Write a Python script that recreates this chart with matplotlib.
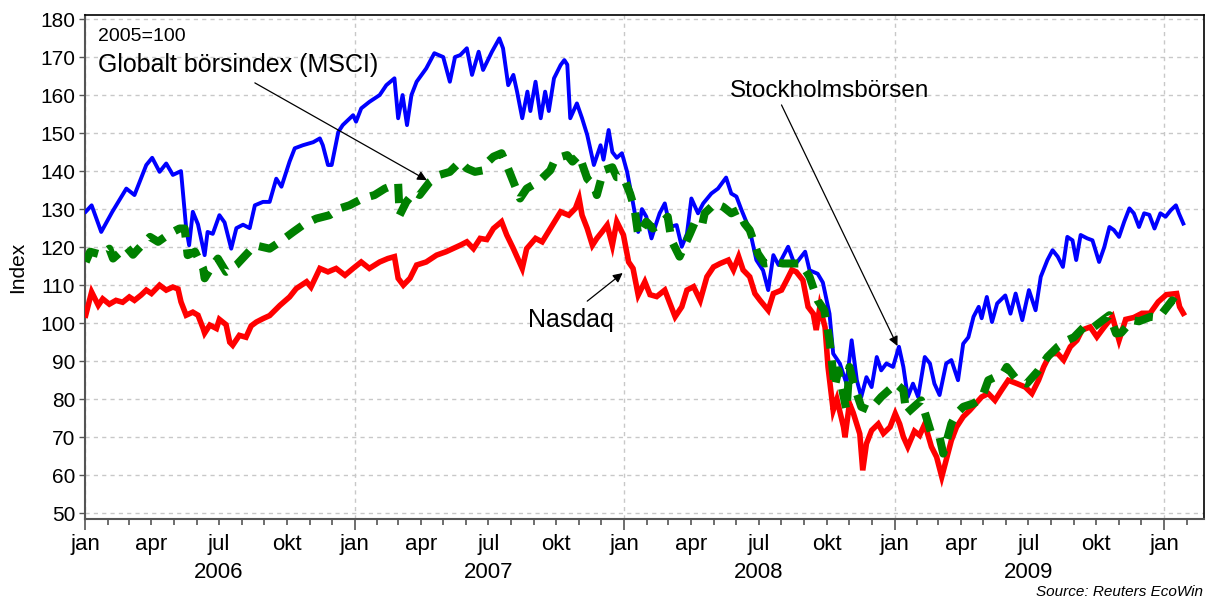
import matplotlib
matplotlib.use("Agg")
import matplotlib.pyplot as plt
import matplotlib.dates as mdates
import matplotlib.ticker as mticker
import pandas as pd

plt.rcParams['font.family'] = ['Liberation Sans', 'DejaVu Sans']

# Stockholmsbörsen (blå)
stockholm_datum = [
    '2006-01-02', '2006-01-10', '2006-01-23', '2006-02-07', '2006-02-26', '2006-03-09', '2006-03-25',
    '2006-04-02', '2006-04-12', '2006-04-21', '2006-04-30', '2006-05-11', '2006-05-18', '2006-05-22',
    '2006-05-27', '2006-06-03', '2006-06-12', '2006-06-16', '2006-06-23', '2006-07-02', '2006-07-09',
    '2006-07-18', '2006-07-25', '2006-08-03', '2006-08-12', '2006-08-19', '2006-08-30', '2006-09-08',
    '2006-09-17', '2006-09-24', '2006-10-05', '2006-10-12', '2006-10-23', '2006-11-06', '2006-11-15',
    '2006-11-19', '2006-11-26', '2006-12-01', '2006-12-10', '2006-12-16', '2006-12-30', '2007-01-03',
    '2007-01-10', '2007-01-21', '2007-02-04', '2007-02-13', '2007-02-24', '2007-03-01', '2007-03-07',
    '2007-03-13', '2007-03-19', '2007-03-26', '2007-04-08', '2007-04-19', '2007-05-01', '2007-05-10',
    '2007-05-17', '2007-05-24', '2007-06-02', '2007-06-09', '2007-06-18', '2007-06-24', '2007-07-06',
    '2007-07-16', '2007-07-21', '2007-07-28', '2007-08-04', '2007-08-09', '2007-08-16', '2007-08-23',
    '2007-08-27', '2007-09-03', '2007-09-10', '2007-09-16', '2007-09-21', '2007-09-28', '2007-10-07',
    '2007-10-12', '2007-10-16', '2007-10-20', '2007-10-29', '2007-11-05', '2007-11-12', '2007-11-21',
    '2007-11-30', '2007-12-04', '2007-12-11', '2007-12-16', '2007-12-22', '2007-12-29', '2008-01-05',
    '2008-01-11', '2008-01-20', '2008-01-25', '2008-01-31', '2008-02-07', '2008-02-13', '2008-02-18',
    '2008-02-25', '2008-03-03', '2008-03-12', '2008-03-19', '2008-03-26', '2008-04-01', '2008-04-10',
    '2008-04-17', '2008-04-28', '2008-05-07', '2008-05-18', '2008-05-25', '2008-06-01', '2008-06-08',
    '2008-06-19', '2008-06-28', '2008-07-07', '2008-07-14', '2008-07-21', '2008-07-28', '2008-08-10',
    '2008-08-19', '2008-09-02', '2008-09-08', '2008-09-19', '2008-09-26', '2008-10-05', '2008-10-10',
    '2008-10-19', '2008-10-28', '2008-11-04', '2008-11-11', '2008-11-17', '2008-11-24', '2008-12-01',
    '2008-12-08', '2008-12-14', '2008-12-21', '2008-12-30', '2009-01-07', '2009-01-13', '2009-01-19',
    '2009-01-26', '2009-02-02', '2009-02-11', '2009-02-18', '2009-02-24', '2009-03-03', '2009-03-12',
    '2009-03-19', '2009-03-28', '2009-04-04', '2009-04-11', '2009-04-18', '2009-04-25', '2009-04-29',
    '2009-05-06', '2009-05-13', '2009-05-20', '2009-05-31', '2009-06-07', '2009-06-14', '2009-06-23',
    '2009-07-02', '2009-07-11', '2009-07-18', '2009-07-27', '2009-08-03', '2009-08-10', '2009-08-17',
    '2009-08-23', '2009-08-30', '2009-09-04', '2009-09-10', '2009-09-19', '2009-09-26', '2009-10-05',
    '2009-10-12', '2009-10-19', '2009-10-25', '2009-11-01', '2009-11-08', '2009-11-15', '2009-11-21',
    '2009-11-28', '2009-12-05', '2009-12-12', '2009-12-19', '2009-12-27', '2010-01-03', '2010-01-10',
    '2010-01-17', '2010-01-21', '2010-01-27']
stockholm_index = [
    129.3, 131.0, 124.0, 129.3, 135.4, 133.7, 141.6,
    143.5, 139.8, 142.0, 139.0, 140.0, 125.0, 120.5,
    129.3, 126.0, 117.9, 124.0, 123.5, 128.4, 126.5,
    119.6, 125.0, 125.9, 125.0, 131.0, 131.9, 131.9,
    138.0, 135.9, 142.5, 146.0, 146.8, 147.6, 148.6,
    146.8, 141.6, 141.6, 150.3, 152.1, 154.7, 153.0,
    156.5, 158.2, 160.0, 162.6, 164.4, 153.9, 160.0,
    152.1, 160.0, 163.5, 167.0, 171.0, 170.0, 163.5,
    170.0, 170.5, 172.3, 165.3, 171.4, 166.6, 171.4,
    174.9, 172.3, 162.6, 165.3, 160.9, 153.9, 160.9,
    155.8, 163.5, 153.9, 160.9, 155.8, 164.4, 167.9,
    169.2, 168.0, 153.9, 157.8, 153.9, 149.5, 141.6,
    146.8, 143.0, 150.8, 145.0, 143.5, 144.7, 139.8,
    133.7, 124.0, 130.0, 128.0, 122.3, 126.0, 128.9,
    131.5, 125.3, 125.8, 120.1, 123.5, 132.8, 128.9,
    131.5, 134.1, 135.4, 138.3, 134.1, 133.3, 129.7,
    124.5, 116.6, 113.9, 108.7, 117.9, 115.3, 120.1,
    115.3, 118.8, 113.9, 113.0, 110.7, 102.5, 92.0,
    89.4, 84.1, 95.5, 85.0, 80.6, 85.8, 83.2,
    91.1, 87.6, 89.4, 88.5, 93.8, 88.5, 80.6,
    84.1, 80.6, 91.1, 89.4, 84.1, 81.1, 89.4,
    90.3, 85.0, 94.6, 96.3, 101.7, 104.3, 101.3,
    106.9, 100.3, 105.2, 107.3, 102.5, 107.8, 100.8,
    108.7, 103.4, 112.2, 116.6, 119.2, 117.5, 114.8,
    122.7, 121.8, 116.6, 123.2, 122.3, 121.8, 116.1,
    120.0, 125.3, 124.5, 122.7, 126.7, 130.2, 128.9,
    125.3, 128.9, 128.5, 124.9, 128.9, 128.0, 129.7,
    131.0, 128.9, 126.2]

# Globalt börsindex (MSCI) (grön, streckad)
msci_datum = [
    '2006-01-02', '2006-01-08', '2006-01-23', '2006-02-03', '2006-02-08', '2006-02-26', '2006-03-07',
    '2006-03-14', '2006-03-30', '2006-04-10', '2006-04-26', '2006-05-09', '2006-05-16', '2006-05-20',
    '2006-05-30', '2006-06-10', '2006-06-12', '2006-06-23', '2006-06-30', '2006-07-11', '2006-07-25',
    '2006-08-07', '2006-08-19', '2006-09-08', '2006-09-22', '2006-10-10', '2006-10-23', '2006-11-10',
    '2006-11-28', '2006-12-12', '2006-12-25', '2007-01-12', '2007-01-28', '2007-02-11', '2007-03-01',
    '2007-03-03', '2007-03-12', '2007-03-23', '2007-03-30', '2007-04-13', '2007-04-26', '2007-05-10',
    '2007-05-24', '2007-06-02', '2007-06-13', '2007-06-24', '2007-07-01', '2007-07-08', '2007-07-19',
    '2007-07-26', '2007-08-04', '2007-08-13', '2007-08-22', '2007-09-07', '2007-09-23', '2007-09-30',
    '2007-10-16', '2007-10-23', '2007-11-01', '2007-11-12', '2007-11-21', '2007-11-25', '2007-12-04',
    '2007-12-16', '2007-12-22', '2007-12-31', '2008-01-09', '2008-01-15', '2008-01-20', '2008-01-31',
    '2008-02-09', '2008-02-20', '2008-02-29', '2008-03-05', '2008-03-16', '2008-03-30', '2008-04-05',
    '2008-04-15', '2008-04-19', '2008-05-03', '2008-05-14', '2008-05-25', '2008-06-03', '2008-06-12',
    '2008-06-19', '2008-06-30', '2008-07-09', '2008-07-23', '2008-08-03', '2008-08-17', '2008-08-28',
    '2008-09-08', '2008-09-19', '2008-09-28', '2008-10-05', '2008-10-12', '2008-10-17', '2008-10-28',
    '2008-11-01', '2008-11-08', '2008-11-17', '2008-11-28', '2008-12-14', '2009-01-03', '2009-01-13',
    '2009-01-17', '2009-02-06', '2009-02-20', '2009-03-03', '2009-03-08', '2009-03-19', '2009-03-26',
    '2009-04-04', '2009-04-18', '2009-04-29', '2009-05-08', '2009-05-28', '2009-06-02', '2009-06-16',
    '2009-06-29', '2009-07-15', '2009-07-27', '2009-08-10', '2009-08-23', '2009-09-01', '2009-09-17',
    '2009-09-28', '2009-10-10', '2009-10-19', '2009-10-28', '2009-11-04', '2009-11-19', '2009-11-28',
    '2009-12-14', '2009-12-25', '2010-01-12', '2010-01-19', '2010-01-26']
msci_index = [
    116.1, 118.8, 118.0, 119.6, 117.0, 120.1, 118.0,
    119.5, 122.7, 121.4, 123.6, 124.9, 124.9, 117.9,
    118.8, 114.4, 111.8, 115.3, 117.0, 113.5, 115.3,
    118.0, 120.5, 119.6, 121.4, 124.0, 125.8, 127.5,
    128.4, 130.2, 131.0, 132.8, 133.7, 135.4, 136.8,
    128.4, 131.9, 134.5, 133.7, 137.2, 139.0, 139.8,
    142.5, 140.7, 139.8, 140.2, 142.5, 143.8, 144.7,
    141.6, 137.2, 132.8, 135.4, 137.2, 140.2, 143.3,
    144.2, 142.5, 144.2, 138.0, 136.3, 133.7, 140.2,
    141.0, 138.4, 138.4, 134.1, 130.2, 123.2, 126.7,
    124.9, 126.2, 128.0, 121.8, 117.5, 123.5, 126.2,
    125.3, 128.9, 131.5, 130.6, 128.9, 129.7, 126.2,
    124.5, 118.3, 115.7, 116.1, 115.7, 115.7, 115.7,
    112.2, 106.0, 103.4, 95.5, 83.2, 87.6, 77.1,
    88.5, 83.2, 78.0, 77.1, 80.6, 84.1, 82.4,
    76.2, 79.7, 70.9, 70.0, 65.7, 73.6, 76.2,
    78.0, 78.9, 80.2, 85.0, 86.8, 88.5, 85.0,
    84.1, 87.6, 91.1, 93.8, 95.5, 96.3, 99.5,
    99.0, 100.8, 102.1, 97.3, 97.5, 100.8, 100.5,
    101.7, 101.5, 106.0, 105.0, 103.4]

# Nasdaq (röd)
nasdaq_datum = [
    '2006-01-02', '2006-01-10', '2006-01-19', '2006-01-25', '2006-02-03', '2006-02-12', '2006-02-21',
    '2006-03-02', '2006-03-09', '2006-03-18', '2006-03-25', '2006-04-01', '2006-04-12', '2006-04-21',
    '2006-04-30', '2006-05-07', '2006-05-11', '2006-05-18', '2006-05-27', '2006-06-03', '2006-06-10',
    '2006-06-12', '2006-06-19', '2006-06-28', '2006-07-02', '2006-07-11', '2006-07-16', '2006-07-20',
    '2006-07-29', '2006-08-07', '2006-08-14', '2006-08-21', '2006-08-30', '2006-09-08', '2006-09-22',
    '2006-10-05', '2006-10-14', '2006-10-28', '2006-11-03', '2006-11-15', '2006-11-26', '2006-12-07',
    '2006-12-19', '2006-12-30', '2007-01-10', '2007-01-21', '2007-02-04', '2007-02-15', '2007-02-24',
    '2007-03-01', '2007-03-08', '2007-03-17', '2007-03-26', '2007-04-08', '2007-04-22', '2007-05-05',
    '2007-05-14', '2007-05-24', '2007-06-02', '2007-06-11', '2007-06-20', '2007-06-29', '2007-07-08',
    '2007-07-19', '2007-07-26', '2007-08-04', '2007-08-16', '2007-08-22', '2007-09-03', '2007-09-12',
    '2007-09-23', '2007-10-07', '2007-10-18', '2007-10-27', '2007-11-01', '2007-11-05', '2007-11-12',
    '2007-11-19', '2007-11-25', '2007-12-02', '2007-12-09', '2007-12-16', '2007-12-22', '2007-12-31',
    '2008-01-07', '2008-01-13', '2008-01-20', '2008-01-29', '2008-02-05', '2008-02-14', '2008-02-25',
    '2008-03-10', '2008-03-19', '2008-03-26', '2008-04-04', '2008-04-13', '2008-04-22', '2008-05-01',
    '2008-05-10', '2008-05-21', '2008-05-28', '2008-06-04', '2008-06-10', '2008-06-19', '2008-06-26',
    '2008-07-03', '2008-07-14', '2008-07-21', '2008-08-01', '2008-08-08', '2008-08-15', '2008-08-21',
    '2008-08-30', '2008-09-06', '2008-09-13', '2008-09-17', '2008-09-22', '2008-09-29', '2008-10-03',
    '2008-10-10', '2008-10-15', '2008-10-24', '2008-10-26', '2008-11-01', '2008-11-06', '2008-11-15',
    '2008-11-19', '2008-11-24', '2008-12-01', '2008-12-10', '2008-12-17', '2008-12-26', '2009-01-02',
    '2009-01-08', '2009-01-13', '2009-01-19', '2009-01-28', '2009-02-04', '2009-02-11', '2009-02-20',
    '2009-02-27', '2009-03-06', '2009-03-12', '2009-03-19', '2009-03-26', '2009-04-04', '2009-04-13',
    '2009-04-29', '2009-05-08', '2009-05-17', '2009-05-26', '2009-06-04', '2009-06-16', '2009-06-27',
    '2009-07-06', '2009-07-15', '2009-07-22', '2009-07-31', '2009-08-10', '2009-08-18', '2009-08-27',
    '2009-09-05', '2009-09-12', '2009-09-23', '2009-10-02', '2009-10-12', '2009-10-23', '2009-11-01',
    '2009-11-10', '2009-11-21', '2009-12-02', '2009-12-13', '2009-12-24', '2010-01-04', '2010-01-18',
    '2010-01-22', '2010-01-27']
nasdaq_index = [
    102.1, 108.2, 104.7, 106.4, 105.0, 106.0, 105.5,
    106.9, 106.0, 107.4, 108.7, 107.8, 110.0, 108.7,
    109.5, 109.0, 105.6, 102.1, 102.9, 102.1, 98.6,
    97.4, 99.5, 98.6, 101.0, 99.6, 95.0, 94.2,
    96.8, 96.3, 99.3, 100.3, 101.2, 102.0, 104.7,
    106.9, 109.1, 110.9, 109.5, 114.4, 113.5, 114.4,
    112.6, 114.4, 116.1, 114.4, 116.1, 117.0, 117.5,
    111.8, 110.0, 111.8, 115.3, 116.1, 117.9, 118.8,
    119.6, 120.5, 121.4, 119.6, 122.3, 122.0, 124.9,
    126.7, 123.2, 119.6, 114.4, 119.6, 122.3, 121.4,
    124.9, 129.3, 128.4, 130.2, 132.8, 128.4, 124.9,
    120.5, 122.3, 124.0, 125.8, 120.5, 126.7, 123.2,
    116.1, 114.4, 107.4, 110.9, 107.5, 107.0, 108.7,
    101.7, 104.3, 108.7, 109.6, 106.0, 112.2, 114.8,
    115.7, 116.6, 114.0, 117.5, 114.0, 112.2, 107.8,
    106.0, 103.4, 107.8, 108.7, 111.3, 114.0, 113.5,
    111.3, 104.3, 102.5, 98.2, 104.3, 98.9, 88.5,
    77.1, 80.0, 72.7, 70.0, 78.9, 76.5, 70.9,
    61.3, 68.3, 71.8, 73.5, 71.0, 72.7, 76.2,
    73.5, 70.1, 67.5, 71.6, 70.5, 73.5, 67.5,
    64.8, 59.6, 64.0, 69.2, 72.7, 75.4, 77.1,
    80.6, 81.5, 79.7, 82.4, 85.0, 84.1, 83.2,
    81.5, 85.0, 88.5, 92.0, 92.0, 90.3, 93.8,
    95.5, 98.2, 99.0, 96.4, 99.0, 101.7, 95.5,
    101.0, 101.5, 102.6, 102.6, 105.6, 107.5, 107.8,
    104.3, 102.6]

manader = {1: 'jan', 4: 'apr', 7: 'jul', 10: 'okt'}
ar = [2006, 2007, 2008, 2009]

fig = plt.figure(figsize=(12.07, 6.03), dpi=100)
ax = fig.add_axes([0.0704, 0.1393, 0.9271, 0.8358])

ax.plot(pd.to_datetime(stockholm_datum), stockholm_index, color='#0000ff', lw=2.8,
        solid_joinstyle='round', zorder=3)
ax.plot(pd.to_datetime(nasdaq_datum), nasdaq_index, color='#ff0000', lw=4.0,
        solid_joinstyle='miter', zorder=4)
ax.plot(pd.to_datetime(msci_datum), msci_index, color='#008000', lw=5.8,
        linestyle=(0, (2.4, 1.5)), dash_capstyle='butt', zorder=5)

ax.set_xlim(pd.Timestamp('2006-01-01'), pd.Timestamp('2010-02-24'))
ax.set_ylim(48.5, 181.05)

# y-axel
ax.yaxis.set_major_locator(mticker.MultipleLocator(10))
ax.tick_params(axis='y', direction='out', length=4, width=1, pad=3, labelsize=15,
               color='#555555')
ax.set_ylabel('Index', fontsize=15)
ax.yaxis.set_label_coords(-0.052, 0.5)

# x-axel: långa streck vid januari, korta vid varje månad
ax.xaxis.set_major_locator(mdates.MonthLocator(bymonth=1))
ax.xaxis.set_minor_locator(mdates.MonthLocator())
ax.xaxis.set_major_formatter(mticker.FuncFormatter(lambda x, p: 'jan'))
ax.xaxis.set_minor_formatter(mticker.FuncFormatter(
    lambda x, p: manader.get(mdates.num2date(x).month, '')))
ax.tick_params(axis='x', which='major', direction='out', length=8, width=1.2,
               pad=3, labelsize=16, color='#555555')
ax.tick_params(axis='x', which='minor', direction='out', length=4, width=1.2,
               pad=7, labelsize=16, color='#555555')

for a in ar:
    ax.text(pd.Timestamp(f'{a}-07-01'), -0.107, str(a), transform=ax.get_xaxis_transform(),
            ha='center', va='center', fontsize=16)

# rutnät
ax.grid(axis='y', which='major', color='#c8c8c8', linestyle=(0, (3, 3)), lw=1)
ax.grid(axis='x', which='major', color='#c8c8c8', linestyle=(0, (3, 3)), lw=1)
ax.set_axisbelow(True)

for s in ['top', 'right']:
    ax.spines[s].set_color('#000000')
    ax.spines[s].set_linewidth(1.2)
for s in ['left', 'bottom']:
    ax.spines[s].set_color('#555555')
    ax.spines[s].set_linewidth(1.5)

# texter och pilar
ax.text(0.0116, 0.948, '2005=100', transform=ax.transAxes, fontsize=14, va='baseline')
ax.text(0.0116, 0.887, 'Globalt börsindex (MSCI)', transform=ax.transAxes, fontsize=18,
        va='baseline')
ax.text(0.576, 0.837, 'Stockholmsbörsen', transform=ax.transAxes, fontsize=17.5, va='baseline')
ax.text(0.396, 0.381, 'Nasdaq', transform=ax.transAxes, fontsize=18, va='baseline')

pil = dict(arrowstyle='-|>', color='black', lw=0.9, mutation_scale=14, shrinkA=0, shrinkB=0)
ax.annotate('', xy=(pd.Timestamp('2007-04-09'), 137.6), xytext=(pd.Timestamp('2006-08-19'), 163.2),
            arrowprops=pil, zorder=6)
ax.annotate('', xy=(pd.Timestamp('2009-01-05'), 94.0), xytext=(pd.Timestamp('2008-08-01'), 157.4),
            arrowprops=pil, zorder=6)
ax.annotate('', xy=(pd.Timestamp('2007-12-30'), 113.2), xytext=(pd.Timestamp('2007-11-12'), 105.8),
            arrowprops=pil, zorder=6)

fig.text(0.9967, 0.018, 'Source: Reuters EcoWin', ha='right', va='center', fontsize=11,
         style='italic')

fig.savefig('out.png', dpi=100)
